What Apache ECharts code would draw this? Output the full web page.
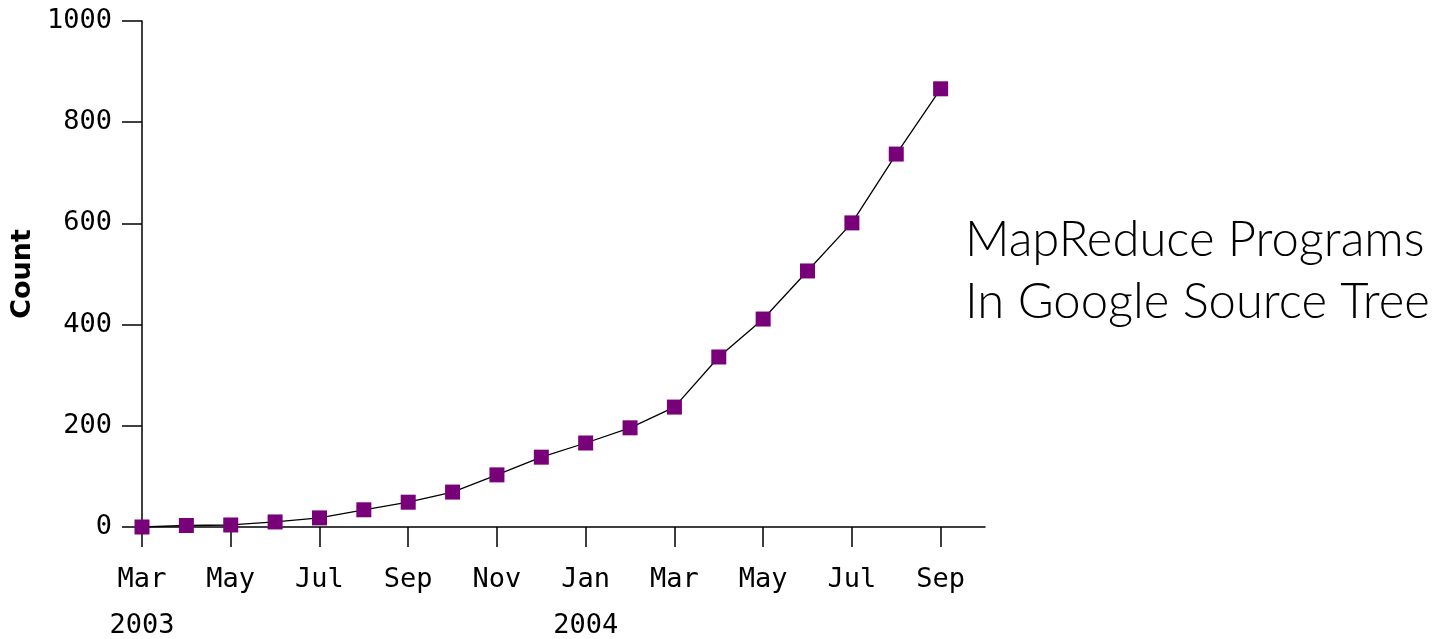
<!DOCTYPE html>
<html>
<head>
<meta charset="utf-8">
<script src="https://cdn.jsdelivr.net/npm/echarts@6/dist/echarts.min.js"></script>
<style>html,body{margin:0;padding:0;background:#fff;}#c{width:1447px;height:639px;}</style>
</head>
<body>
<div id="c"></div>
<script>
var months = ['Mar','Apr','May','Jun','Jul','Aug','Sep','Oct','Nov','Dec','Jan','Feb','Mar','Apr','May','Jun','Jul','Aug','Sep','Oct'];
var years = ['2003','','','','','','','','','','2004','','','','','','','','',''];
var counts = [0,3,4,10,18,34,49,69,103,138,166,196,237,336,411,506,601,737,866,null];
var yTicks = [0,200,400,600,800,1000];
var titleLines = ['MapReduce Programs','In Google Source Tree'];
var yName = 'Count';

var cats = months.map(function(m,i){ return m + '|' + years[i]; });
var chart = echarts.init(document.getElementById('c'));
chart.setOption({
  backgroundColor:'#fff',
  animation:false,
  title:{
    text: titleLines.join('\n'),
    left: 960, top: 204,
    textStyle:{fontFamily:'Lato', fontWeight:300, fontSize:49, lineHeight:62, color:'#000'}
  },
  grid:{left:142, right:462, top:21, bottom:112, containLabel:false, outerBoundsMode:'none'},
  xAxis:{
    type:'category', data:cats, boundaryGap:false,
    axisLine:{lineStyle:{color:'#000', width:1.5}},
    axisTick:{show:true, length:20, interval:function(i){return i%2===0 && i<19;}, lineStyle:{color:'#000', width:1.5}},
    axisLabel:{
      interval:function(i){return i%2===0 && i<19;},
      margin:30, color:'#000', fontFamily:'DejaVu Sans Mono', fontSize:27, lineHeight:46,
      formatter:function(v){ var p=v.split('|'); return p[1] ? p[0]+'\n'+p[1] : p[0]; }
    },
    splitLine:{show:false}
  },
  yAxis:{
    type:'value', min:yTicks[0], max:yTicks[yTicks.length-1], interval:200,
    name:yName, nameLocation:'middle', nameRotate:90, nameGap:97,
    nameTextStyle:{fontFamily:'DejaVu Sans', fontWeight:'bold', fontSize:27, color:'#000'},
    axisLine:{show:true, lineStyle:{color:'#000', width:1.5}},
    axisTick:{show:true, length:20, lineStyle:{color:'#000', width:1.5}},
    axisLabel:{margin:30, color:'#000', fontFamily:'DejaVu Sans Mono', fontSize:27, formatter:function(v){return String(v);}},
    splitLine:{show:false}
  },
  series:[{
    type:'line', data:counts, symbol:'rect', symbolSize:15,
    lineStyle:{color:'#000', width:1.3},
    itemStyle:{color:'#780078'},
    z:3
  }]
});
</script>
</body>
</html>
